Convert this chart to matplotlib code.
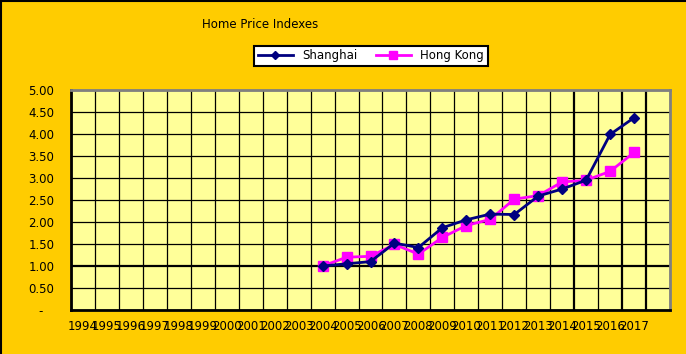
import matplotlib.pyplot as plt
import numpy as np

years = [str(y) for y in range(1994, 2018)]
shanghai = [None] * 10 + [1.00, 1.05, 1.10, 1.52, 1.42, 1.87, 2.05, 2.18,
                          2.17, 2.59, 2.75, 2.95, 3.99, 4.37]
hong_kong = [None] * 10 + [1.00, 1.20, 1.22, 1.49, 1.27, 1.65, 1.92, 2.06,
                           2.52, 2.60, 2.91, 2.95, 3.15, 3.58]
y_ticks = [0, 0.5, 1.0, 1.5, 2.0, 2.5, 3.0, 3.5, 4.0, 4.5, 5.0]


def to_arr(vals):
    return np.array([np.nan if v is None else v for v in vals], dtype=float)


fig = plt.figure(figsize=(6.86, 3.54), dpi=100, facecolor='#FFCC00')
ax = fig.add_axes([71 / 686, 44 / 354, 599 / 686, 220 / 354])
ax.set_facecolor('#FFFF99')

x = np.arange(len(years))
ax.plot(x, to_arr(shanghai), color='#000080', marker='D', markersize=5,
        linewidth=2, label='Shanghai', zorder=4)
ax.plot(x, to_arr(hong_kong), color='#FF00FF', marker='s', markersize=7.5,
        linewidth=2, label='Hong Kong', zorder=3)

# axes limits, one extra empty category at the end
ax.set_xlim(-0.5, len(years) + 0.5)
ax.set_ylim(0, 5)

# grid between categories
for k in range(len(years) + 2):
    lw = 1.6 if k in (21, 23, 24) else 0.9
    ax.axvline(k - 0.5, color='black', linewidth=lw, zorder=1)
for v in y_ticks:
    lw = 1.6 if v == 1.0 else 0.9
    ax.axhline(v, color='black', linewidth=lw, zorder=1)

ax.set_xticks(x)
ax.set_xticklabels(years, fontsize=8.5)
ax.set_yticks(y_ticks)
ax.set_yticklabels(['-   ' if v == 0 else '%.2f' % v for v in y_ticks],
                   fontsize=8.5)
ax.tick_params(length=0)
ax.tick_params(axis='x', pad=7)
ax.tick_params(axis='y', pad=12)

for side in ('left', 'bottom'):
    ax.spines[side].set_color('black')
    ax.spines[side].set_linewidth(2)
for side in ('top', 'right'):
    ax.spines[side].set_color('#808080')
    ax.spines[side].set_linewidth(2)

fig.text(260 / 686, 1 - 24 / 354, 'Home Price Indexes', ha='center',
         va='center', fontsize=8.5)

leg = fig.legend(loc='center', bbox_to_anchor=(371 / 686, 1 - 56 / 354),
                 ncol=2, fontsize=8.5, frameon=True, fancybox=False,
                 edgecolor='black', facecolor='white', framealpha=1,
                 handlelength=3.0, columnspacing=1.5, borderpad=0.3,
                 markerscale=0.8)
leg.get_frame().set_linewidth(1.5)

# figure border on left and top
fig.add_artist(plt.Line2D([0.001, 0.001], [0, 1], color='black',
                          linewidth=1.5, transform=fig.transFigure))
fig.add_artist(plt.Line2D([0, 1], [0.998, 0.998], color='black',
                          linewidth=1.5, transform=fig.transFigure))

plt.savefig('out.png', facecolor=fig.get_facecolor())
plt.close()
